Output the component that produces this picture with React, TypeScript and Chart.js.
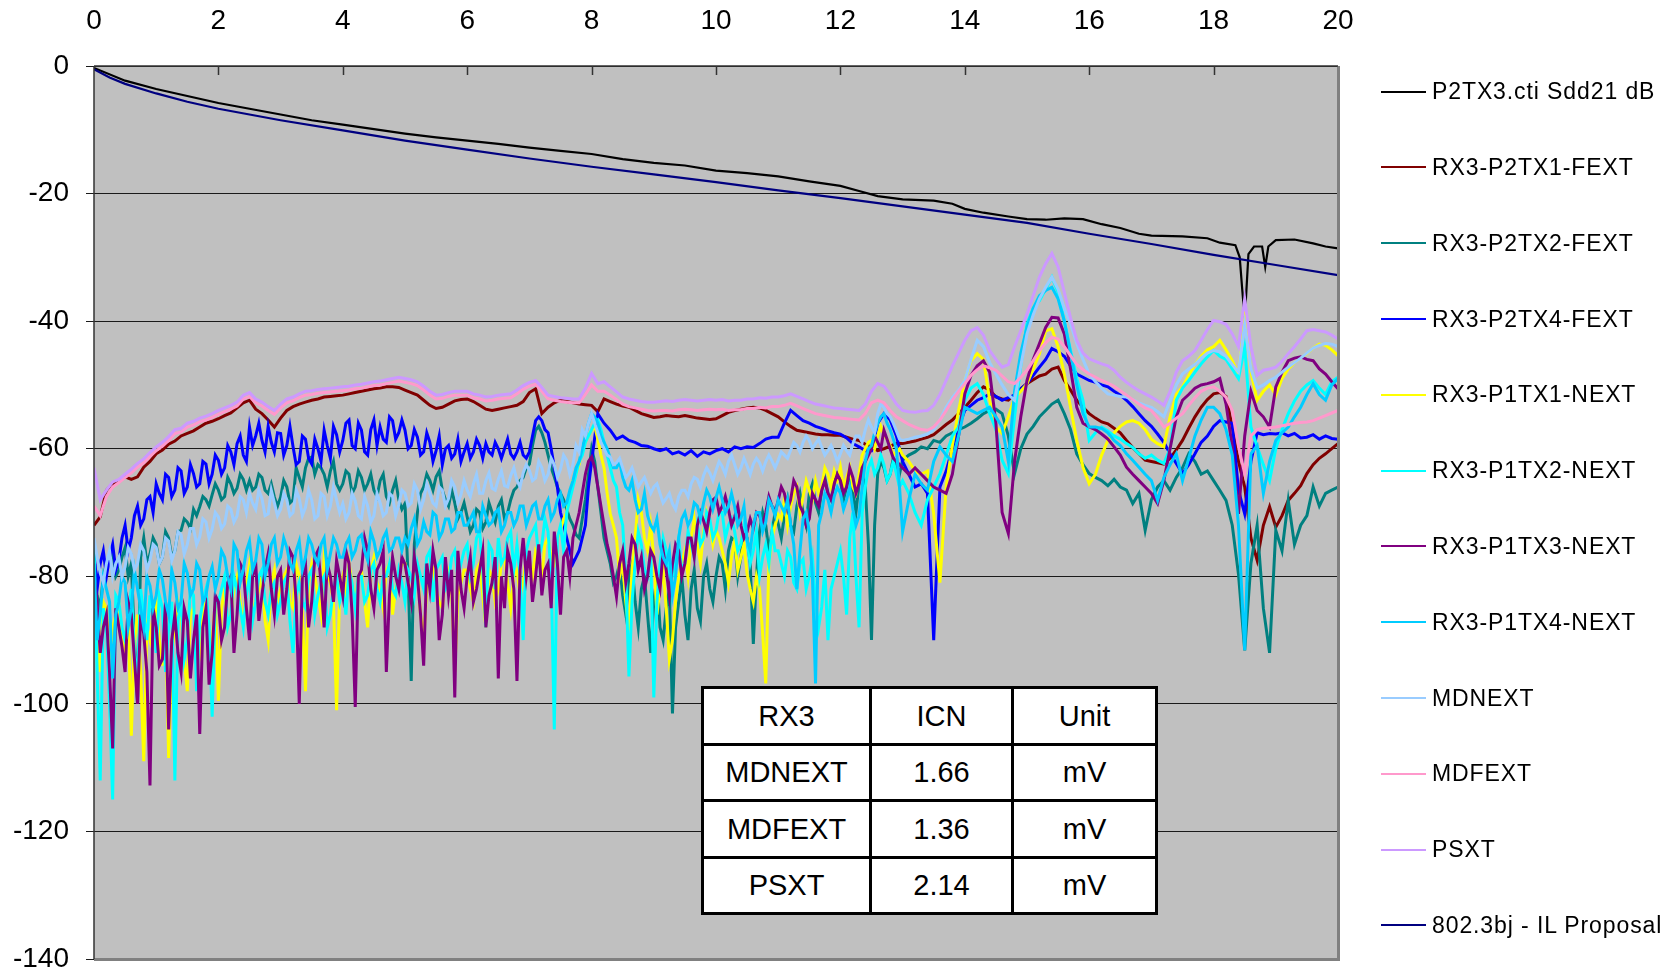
import React, { useEffect, useRef } from "react";
import { Chart, registerables } from "chart.js";

Chart.register(...registerables);

// ---------- axes ----------
const X_MIN = 0;
const X_MAX = 20;
const X_STEP = 2;
const Y_MIN = -140;
const Y_MAX = 0;
const Y_STEP = 20;

// frequency grids (GHz)
const FREQ: number[] = Array.from({ length: 201 }, (_, i) => i / 10); // 0.0 .. 20.0
const MID_F: number[] = Array.from({ length: 130 }, (_, k) => 0.05 + k / 10); // 0.05 .. 12.95 (extra samples of the noisy traces)

// ---------- P2TX3.cti Sdd21 dB ----------
const SDD21_F = [0, 0.5, 1, 1.5, 2, 2.5, 3, 3.5, 4, 4.5, 5, 5.5, 6, 6.5, 7, 7.5, 8, 8.5, 9, 9.5, 10, 10.5, 11, 11.5, 12, 12.3, 12.6, 13, 13.5, 13.8, 14, 14.3, 14.7, 15, 15.3, 15.6, 15.9, 16.2, 16.5, 16.8, 17.0, 17.5, 17.9, 18.1, 18.35, 18.42, 18.46, 18.49, 18.52, 18.56, 18.65, 18.78, 18.83, 18.88, 19.0, 19.3, 19.6, 19.8, 20];
const SDD21_DB = [-0.3, -2.3, -3.6, -4.7, -5.8, -6.7, -7.6, -8.5, -9.2, -9.9, -10.6, -11.2, -11.7, -12.2, -12.8, -13.3, -13.8, -14.6, -15.2, -15.6, -16.4, -16.8, -17.3, -18.1, -18.8, -19.6, -20.4, -20.9, -21.1, -21.6, -22.4, -23.0, -23.6, -24.0, -24.1, -23.9, -24.0, -24.8, -25.4, -26.3, -26.6, -26.7, -27.0, -27.7, -28.1, -30.0, -35.0, -38.5, -36.5, -29.5, -28.3, -28.3, -31.5, -28.3, -27.3, -27.2, -27.8, -28.3, -28.6];

// ---------- 802.3bj - IL Proposal ----------
const IL_F = [0, 0.25, 0.5, 1, 1.5, 2, 3, 4, 5, 6, 7, 8, 9, 10, 11, 12, 13, 14, 15, 16, 17, 18, 19, 20];
const IL_DB = [-0.5, -1.8, -2.8, -4.3, -5.6, -6.7, -8.5, -10.1, -11.7, -13.1, -14.5, -15.8, -17.0, -18.2, -19.5, -20.7, -22.0, -23.3, -24.6, -26.3, -27.9, -29.6, -31.2, -32.8];

// ---------- RX3-P2TX1-FEXT ----------
const FEXT1 = [
  -72.0, -70.7, -66.5, -65.5, -65.0, -64.4, -64.8, -64.4, -62.9, -62.0,
  -60.8, -60.2, -59.3, -58.8, -58.0, -57.6, -57.2, -56.6, -56.0, -55.7,
  -55.3, -54.8, -54.4, -53.6, -52.8, -52.4, -53.8, -54.5, -55.5, -56.6,
  -55.2, -54.0, -53.4, -53.0, -52.7, -52.4, -52.2, -51.9, -51.8, -51.7,
  -51.6, -51.4, -51.2, -51.0, -50.8, -50.6, -50.5, -50.3, -50.3, -50.4,
  -50.8, -51.2, -51.6, -52.4, -53.2, -53.7, -53.5, -53.0, -52.5, -52.3,
  -52.2, -52.6, -53.2, -53.8, -54.0, -53.8, -53.6, -53.4, -53.2, -52.6,
  -51.2, -50.6, -54.5, -53.5, -52.8, -52.4, -52.6, -52.8, -53.0, -53.1,
  -53.2, -54.2, -52.2, -52.6, -53.0, -53.3, -53.5, -54.0, -54.5, -54.8,
  -55.1, -55.0, -54.8, -54.9, -55.0, -54.8, -55.0, -55.2, -55.3, -55.4,
  -55.3, -54.8, -54.3, -54.0, -53.8, -53.6, -53.5, -53.6, -54.0, -54.5,
  -55.0, -55.8, -56.5, -57.1, -57.3, -57.5, -57.7, -57.8, -57.8, -57.9,
  -57.9, -58.2, -58.5, -58.7, -59.3, -59.8, -60.3, -60.0, -59.6, -59.2,
  -59.2, -59.0, -58.8, -58.5, -58.2, -57.8, -57.0, -56.2, -55.5, -54.5,
  -53.5, -52.4, -51.2, -50.3, -50.8, -51.9, -52.2, -52.4, -51.5, -50.6,
  -49.8, -49.2, -48.6, -48.3, -47.5, -47.2, -49.3, -50.8, -52.4, -53.5,
  -54.5, -55.2, -55.8, -56.1, -56.8, -57.5, -58.7, -59.8, -60.8, -61.8,
  -62.0, -62.2, -62.4, -61.5, -60.2, -58.7, -56.8, -55.0, -53.5, -52.3,
  -51.4, -51.2, -51.8, -56.6, -62.0, -66.0, -74.0, -77.5, -72.0, -69.1,
  -72.3, -70.5, -68.1, -67.0, -65.8, -63.9, -62.5, -61.5, -60.8, -60.0,
  -59.2,
];

// ---------- RX3-P2TX2-FEXT ----------
const FEXT2 = [
  -80.0, -85.0, -78.0, -76.0, -79.0, -75.5, -78.0, -100.0, -74.0, -76.5,
  -75.0, -77.0, -74.0, -76.0, -72.8, -71.5, -69.5, -69.1, -68.0, -67.2,
  -66.5, -67.5, -65.5, -66.2, -64.8, -65.0, -66.0, -64.5, -67.0, -67.6,
  -67.6, -66.0, -68.0, -64.5, -63.0, -61.3, -62.5, -64.0, -63.5, -65.5,
  -65.5, -64.0, -66.0, -64.5, -65.5, -66.5, -65.0, -67.5, -66.5, -68.0,
  -68.6, -96.4, -70.0, -66.0, -65.0, -64.4, -66.5, -69.0, -68.5, -70.0,
  -70.7, -72.0, -70.0, -71.5, -70.0, -69.0, -71.0, -68.0, -66.0, -64.5,
  -62.4, -57.1, -57.5, -61.0, -64.4, -67.0, -69.5, -72.0, -74.0, -68.0,
  -60.0, -66.0, -74.0, -78.0, -80.0, -83.0, -80.0, -84.0, -82.0, -86.0,
  -84.0, -88.0, -85.0, -101.5, -84.0, -86.0, -82.0, -85.0, -80.0, -82.0,
  -80.0, -78.0, -76.0, -74.4, -77.0, -74.0, -90.6, -73.0, -72.0, -73.0,
  -71.8, -70.5, -72.0, -69.0, -70.0, -67.0, -68.5, -66.5, -67.0, -65.5,
  -65.0, -66.0, -67.0, -65.5, -66.0, -90.0, -63.9, -63.0, -64.0, -62.5,
  -61.8, -61.0, -60.5, -59.7, -60.0, -58.7, -59.0, -58.0, -57.5, -57.0,
  -56.6, -56.0, -55.3, -54.5, -54.0, -53.8, -54.5, -58.0, -63.9, -60.0,
  -57.7, -56.5, -55.0, -54.0, -53.0, -52.4, -54.5, -57.0, -60.8, -62.5,
  -63.9, -64.5, -65.0, -65.8, -64.8, -66.0, -66.5, -68.6, -67.0, -72.8,
  -68.0, -66.0, -65.0, -66.5, -64.5, -63.0, -60.8, -62.0, -64.0, -63.5,
  -65.0, -66.5, -68.1, -72.0, -79.7, -91.6, -78.0, -72.0, -85.0, -92.0,
  -72.8, -76.0, -68.1, -75.0, -72.0, -70.5, -66.0, -69.0, -67.0, -66.5,
  -66.0,
];
const FEXT2_MID = [
  -83, -80, -77, -80, -77, -80, -90, -77, -78, -74,
  -78, -73, -77, -73, -71, -72.5, -70.5, -67.5, -69, -65.5,
  -68, -64.5, -67, -64, -66.5, -66.5, -64, -66.5, -65.5, -69,
  -65, -68.5, -63, -66, -61.5, -64, -63, -66, -62, -66.5,
  -63.5, -67, -63.5, -66.5, -64, -67.5, -64, -68.5, -65, -69.5,
  -80, -75, -67, -64, -66.5, -63.5, -68, -66.5, -71, -68.5,
  -73, -69.5, -72.5, -68.5, -71.5, -68, -70, -66.5, -65, -63,
  -59.5, -56.5, -59, -63, -66, -68, -71, -73.5, -71, -64,
  -62, -70, -76, -81, -78, -86, -78, -88, -80, -92,
  -80, -90, -82, -88, -80, -90, -79, -87, -78, -84,
  -77, -82, -74, -80, -73, -78, -80, -70, -76, -70,
  -74, -68, -73, -67, -72, -65.5, -70, -64.5, -68, -64,
  -68, -64, -70, -64, -75, -72, -62, -65, -61.5, -64,
];

// ---------- RX3-P2TX4-FEXT ----------
const FEXT4 = [
  -76.0, -78.0, -80.0, -75.0, -77.5, -72.0, -74.0, -69.0, -71.0, -67.5,
  -65.5, -68.0, -64.5, -66.5, -63.5, -66.0, -63.9, -65.5, -62.4, -64.0,
  -61.8, -63.0, -60.5, -59.2, -61.0, -56.6, -58.0, -58.7, -56.5, -60.5,
  -57.6, -59.5, -59.7, -62.0, -58.5, -62.4, -60.0, -57.1, -61.5, -57.8,
  -58.7, -55.5, -60.0, -57.1, -61.0, -55.5, -56.6, -59.0, -55.6, -57.5,
  -57.1, -59.5, -58.2, -60.5, -59.0, -60.3, -62.5, -59.5, -60.8, -62.0,
  -59.2, -60.5, -59.5, -59.2, -61.0, -60.0, -60.0, -60.8, -60.5, -61.0,
  -60.5, -55.6, -55.6, -57.5, -62.9, -70.0, -74.0, -78.0, -76.0, -72.0,
  -62.0, -54.5, -56.0, -57.1, -58.5, -58.0, -58.7, -59.0, -59.5, -59.6,
  -60.0, -60.3, -60.0, -60.8, -60.5, -61.0, -60.3, -61.2, -60.5, -60.8,
  -60.3, -60.0, -60.5, -59.7, -60.0, -59.7, -59.8, -59.2, -58.5, -58.2,
  -58.2, -56.0, -54.0, -54.8, -55.6, -56.0, -56.5, -56.8, -57.2, -57.5,
  -57.7, -58.3, -59.2, -59.7, -60.3, -60.3, -56.0, -54.5, -55.5, -58.0,
  -62.0, -64.0, -66.0, -65.5, -67.0, -90.0, -66.0, -63.5, -60.0, -56.6,
  -54.0, -53.2, -52.4, -52.0, -51.4, -51.8, -52.4, -52.0, -51.6, -50.6,
  -49.8, -48.5, -47.2, -46.0, -44.3, -44.8, -45.5, -47.0, -48.3, -48.8,
  -49.3, -49.6, -50.0, -50.3, -51.0, -51.6, -52.4, -53.4, -54.5, -55.6,
  -56.5, -57.7, -59.0, -60.8, -62.3, -63.9, -62.5, -60.8, -59.0, -58.0,
  -56.5, -55.6, -55.8, -56.0, -66.5, -70.2, -62.0, -57.5, -57.8, -57.6,
  -57.7, -57.5, -58.0, -57.6, -58.3, -58.2, -57.8, -58.5, -58.0, -58.4,
  -58.5,
];
const FEXT4_MID = [
  -82, -76, -77, -79, -74, -76, -70.5, -72, -68, -70,
  -67, -64, -67.5, -63, -67, -62.5, -66, -62, -65.5, -61,
  -64, -59.5, -62.5, -58, -62, -59.5, -56, -60.5, -59, -57.5,
  -61, -56.5, -62.5, -58, -61.5, -58.5, -62, -59.5, -56.5, -60.5,
  -56, -59.5, -56, -60.5, -57, -59.5, -58.5, -55, -58.5, -55.5,
  -60, -57, -61, -57.5, -62, -58, -60, -61.5, -58.5, -60.5,
  -61.5, -58.5, -61.5, -60.5, -59, -61.5, -58.5, -61.5, -59, -61.5,
  -58, -55, -57, -60, -66, -72, -76, -77, -74, -66,
];

// ---------- RX3-P1TX1-NEXT ----------
const NEXT1 = [
  -82.0, -95.0, -85.0, -88.0, -84.0, -92.0, -105.0, -86.0, -109.0, -90.0,
  -84.0, -94.0, -108.5, -88.0, -86.0, -98.0, -85.0, -92.0, -84.0, -90.0,
  -99.5, -82.0, -86.0, -80.0, -88.0, -78.0, -84.0, -80.0, -90.0, -79.0,
  -82.0, -79.0, -85.0, -80.0, -98.0, -78.0, -83.0, -77.0, -81.0, -101.0,
  -80.0, -78.0, -84.0, -79.0, -88.0, -77.0, -82.0, -79.0, -86.0, -80.0,
  -78.0, -83.0, -79.0, -90.0, -80.0, -82.0, -85.0, -79.0, -95.0, -81.0,
  -79.0, -84.0, -78.0, -88.0, -80.0, -82.0, -77.0, -85.0, -79.0, -81.0,
  -78.0, -76.0, -80.0, -74.0, -78.0, -72.8, -70.0, -65.0, -62.4, -59.0,
  -57.1, -58.5, -63.0, -70.2, -74.0, -78.0, -88.5, -74.0, -70.0, -76.0,
  -77.0, -82.0, -85.0, -90.0, -80.0, -76.0, -74.0, -75.0, -73.0, -72.0,
  -72.8, -76.0, -81.0, -74.4, -77.0, -79.6, -84.0, -82.0, -96.8, -74.0,
  -70.3, -68.0, -69.0, -66.0, -67.5, -66.5, -65.0, -66.0, -64.0, -63.5,
  -62.9, -64.5, -66.0, -64.0, -60.0, -58.7, -58.0, -57.8, -59.5, -60.5,
  -61.0, -62.0, -63.5, -64.0, -63.5, -70.2, -81.0, -66.0, -59.5, -54.0,
  -49.3, -46.2, -45.1, -46.0, -52.4, -56.6, -57.6, -55.0, -52.0, -51.0,
  -49.8, -47.5, -45.1, -41.5, -41.2, -44.0, -48.3, -53.5, -58.7, -62.9,
  -65.5, -64.0, -61.0, -58.7, -57.5, -56.5, -55.8, -55.6, -56.0, -57.0,
  -58.5, -59.2, -59.7, -55.0, -51.5, -50.3, -48.5, -46.8, -45.5, -44.5,
  -44.0, -43.0, -44.5, -46.2, -48.3, -39.4, -48.0, -52.4, -51.0, -50.0,
  -51.6, -49.0, -47.5, -46.5, -45.8, -45.1, -44.2, -43.6, -43.8, -44.5,
  -45.4,
];
const NEXT1_MID = [
  -88, -84, -93, -86, -90, -87, -90, -95, -88, -86,
  -90, -86, -92, -84, -93, -86, -90, -86, -95, -84,
  -85, -88, -82, -84, -81, -86, -82, -87, -81, -84,
  -80, -84, -78, -86, -81, -80, -86, -80, -84, -82,
  -83, -81, -80, -84, -79, -81, -85, -78, -82, -78,
  -81, -80, -86, -82, -79, -84, -80, -82, -83, -79,
  -82, -79, -83, -79, -84, -78, -81, -80, -83, -77,
  -80, -77, -75, -77, -74, -71, -67, -64, -60, -58,
  -56.5, -61, -67, -72, -80, -84, -79, -68, -74, -72,
  -86, -79, -93, -84, -78, -80, -71, -78, -70, -75,
  -74, -78, -77, -79, -75, -82, -80, -89, -78, -72,
  -71, -72, -67, -70, -65, -68, -67, -63, -66, -65,
  -66, -63, -67, -61, -59, -60, -56.5, -58.5, -61, -60,
];

// ---------- RX3-P1TX2-NEXT ----------
const NEXT2 = [
  -75.0, -112.0, -88.0, -115.0, -84.0, -90.0, -82.0, -96.0, -86.0, -83.0,
  -92.0, -85.0, -88.0, -112.0, -84.0, -90.0, -83.0, -87.0, -82.0, -102.0,
  -84.0, -80.0, -86.0, -82.0, -88.0, -80.0, -84.0, -79.0, -86.0, -81.0,
  -84.0, -80.0, -92.0, -81.0, -85.0, -79.0, -83.0, -80.0, -86.0, -80.0,
  -82.0, -79.0, -85.0, -80.0, -83.0, -78.0, -84.0, -80.0, -82.0, -79.0,
  -84.0, -80.0, -78.0, -82.0, -76.0, -79.0, -77.0, -81.0, -76.0, -78.0,
  -75.0, -78.0, -73.0, -88.0, -76.0, -74.0, -77.0, -73.0, -75.0, -90.0,
  -74.0, -72.0, -75.0, -73.0, -104.0, -72.0, -70.0, -66.0, -62.0, -59.0,
  -57.0, -55.5, -59.0, -63.0, -66.0, -72.0, -95.7, -78.0, -75.0, -80.0,
  -99.0, -78.0, -76.0, -80.0, -74.0, -78.0, -75.0, -72.0, -74.0, -71.0,
  -72.8, -70.0, -72.0, -73.0, -75.0, -74.4, -76.0, -80.0, -75.0, -73.0,
  -76.0, -80.0, -77.0, -82.0, -77.3, -80.0, -84.0, -84.8, -90.0, -80.0,
  -76.0, -86.0, -70.0, -88.0, -66.0, -61.8, -63.0, -62.5, -64.0, -63.9,
  -65.0, -67.0, -70.0, -72.0, -68.0, -66.0, -63.9, -61.0, -58.0, -56.6,
  -52.4, -50.5, -49.8, -51.5, -54.5, -57.0, -61.8, -63.9, -55.0, -47.0,
  -40.4, -38.0, -36.8, -35.0, -33.1, -35.5, -40.0, -44.6, -49.0, -52.4,
  -58.7, -57.5, -56.6, -57.2, -58.0, -58.5, -59.2, -59.8, -60.8, -61.5,
  -61.0, -61.8, -62.3, -60.0, -52.4, -50.5, -49.3, -48.0, -46.7, -45.6,
  -44.6, -45.5, -46.0, -47.5, -49.0, -44.0, -56.6, -59.7, -62.5, -65.0,
  -60.0, -57.0, -54.5, -52.5, -51.0, -50.0, -49.3, -50.5, -51.5, -49.5,
  -48.8,
];
const NEXT2_MID = [
  -95, -85, -100, -83, -88, -86, -92, -82, -90, -87,
  -83, -95, -84, -87, -93, -82, -98, -84, -88, -84,
  -82, -88, -80, -85, -83, -87, -80, -84, -82, -86,
  -81, -87, -83, -84, -80, -86, -81, -88, -82, -84,
  -86, -81, -80, -84, -79, -82, -80, -78, -83, -81,
  -79, -83, -80, -77, -84, -78, -82, -77, -80, -76,
  -80, -74, -79, -75, -82, -78, -74, -79, -80, -76,
  -73, -77, -71, -80, -74, -76, -68, -64, -61, -58,
  -56, -57, -61, -65, -70, -80, -84, -73, -79, -76,
  -84, -74, -81, -77, -79, -73, -77, -75, -70, -74,
  -70, -74, -71, -76, -72, -78, -73, -77, -78, -76,
  -78, -76, -81, -78, -82, -77, -88, -79, -82, -78,
  -80, -74, -80, -70, -63, -64, -61, -65, -62, -66,
];

// ---------- RX3-P1TX3-NEXT ----------
const NEXT3 = [
  -80.0, -92.0, -86.0, -107.0, -88.0, -95.0, -86.0, -100.0, -89.0, -112.8,
  -88.0, -93.0, -104.0, -86.0, -95.0, -87.0, -90.0, -104.7, -85.0, -92.0,
  -84.0, -88.0, -80.0, -86.0, -79.0, -90.0, -78.0, -83.0, -76.5, -86.0,
  -79.0, -82.0, -77.0, -100.0, -78.0, -84.0, -76.0, -88.0, -80.0, -77.5,
  -83.0, -78.0, -100.5, -79.0, -76.0, -85.0, -78.0, -95.0, -77.0, -82.0,
  -78.1, -84.0, -80.0, -94.0, -82.0, -79.0, -86.0, -83.0, -99.0, -82.0,
  -80.0, -84.0, -79.0, -88.0, -81.0, -96.0, -85.0, -78.0, -96.4, -74.0,
  -76.0, -80.0, -83.0, -78.0, -73.0, -86.0, -76.0, -74.0, -70.0, -64.0,
  -61.3, -66.0, -72.0, -77.0, -83.2, -76.0, -78.0, -75.0, -77.0, -80.0,
  -77.0, -82.0, -79.0, -78.1, -76.0, -78.0, -74.0, -72.0, -71.3, -70.0,
  -67.6, -69.0, -69.5, -70.7, -72.0, -73.0, -72.5, -70.5, -70.0, -69.0,
  -68.1, -67.0, -68.0, -66.0, -70.0, -71.0, -68.0, -66.5, -67.0, -65.5,
  -65.0, -66.0, -64.5, -65.5, -62.0, -60.0, -59.0, -57.1, -60.0, -62.0,
  -63.0, -64.0, -63.0, -64.0, -65.0, -66.0, -66.5, -67.0, -64.0, -58.0,
  -51.4, -48.5, -47.0, -46.2, -48.0, -56.0, -70.0, -73.3, -62.0, -55.0,
  -49.3, -46.0, -43.5, -41.0, -39.4, -39.5, -42.0, -47.5, -53.5, -56.0,
  -56.6, -57.0, -57.7, -58.5, -59.7, -61.0, -62.9, -64.0, -65.0, -66.0,
  -67.0, -68.6, -65.0, -60.0, -55.0, -52.4, -51.5, -50.5, -50.0, -49.8,
  -49.5, -49.0, -53.0, -59.7, -70.2, -58.0, -51.0, -54.0, -55.0, -56.6,
  -50.3, -48.0, -46.2, -45.8, -45.6, -46.0, -46.2, -47.5, -48.3, -49.5,
  -50.6,
];
const NEXT3_MID = [
  -84, -88, -95, -85, -91, -84, -93, -86, -95, -85,
  -94, -84, -90, -92, -85, -96, -86, -88, -97, -83,
  -90, -81, -92, -78, -85, -80, -87, -79, -82, -80,
  -86, -76, -84, -80, -88, -77, -81, -78, -84, -80,
  -76, -86, -80, -74, -82, -79, -76, -83, -80, -77,
  -81, -77, -86, -78, -76, -90, -77, -79, -76, -85,
  -77, -82, -76, -83, -77, -80, -76, -82, -79, -80,
  -84, -75, -79, -85, -78, -77, -80, -72, -67, -62,
  -63, -69, -75, -80, -78, -81, -74, -79, -82, -76,
  -80, -76, -83, -75, -80, -74, -77, -70, -73, -68,
  -70, -67.5, -72, -69, -74, -71, -70, -72, -67.5, -70,
  -66, -69.5, -65, -69, -72, -67, -69, -65, -68, -64,
  -67, -63, -67, -63, -61, -58, -60, -58.5, -61.5, -62.5,
];

// ---------- RX3-P1TX4-NEXT ----------
const NEXT4 = [
  -78.0, -86.0, -82.0, -96.0, -84.0, -81.0, -85.0, -82.0, -88.0, -81.5,
  -83.0, -80.5, -86.0, -81.0, -84.0, -79.5, -82.0, -79.0, -83.0, -78.5,
  -80.0, -77.0, -82.0, -76.0, -79.0, -74.5, -77.5, -75.0, -78.0, -74.0,
  -77.0, -75.5, -79.0, -74.5, -77.0, -75.0, -78.0, -74.0, -76.5, -75.0,
  -77.0, -74.0, -76.0, -73.5, -77.5, -74.5, -76.0, -73.0, -75.5, -74.0,
  -74.0, -72.5, -75.0, -71.5, -73.5, -70.5, -73.0, -71.0, -72.5, -70.0,
  -72.0, -70.0, -73.0, -70.5, -71.5, -69.5, -72.0, -70.0, -71.0, -69.0,
  -70.5, -68.5, -71.0, -68.0, -70.0, -67.0, -68.5, -65.0, -62.0, -58.0,
  -54.5, -56.0, -59.0, -61.5, -63.0, -64.5, -66.5, -68.0, -69.5, -70.5,
  -72.8, -75.0, -78.0, -83.0, -74.0, -70.0, -71.0, -69.0, -68.5, -67.5,
  -67.7, -68.0, -69.0, -69.1, -71.0, -74.4, -72.0, -70.0, -71.5, -69.0,
  -68.0, -70.0, -72.0, -82.0, -71.0, -73.0, -96.8, -70.0, -68.0, -67.5,
  -67.0, -68.0, -69.5, -70.5, -62.0, -59.5, -56.0, -54.5, -57.0, -60.0,
  -73.0, -68.0, -64.0, -65.5, -66.5, -62.0, -59.7, -61.0, -62.0, -58.0,
  -53.5, -54.0, -54.5, -54.0, -53.5, -55.0, -56.6, -62.0, -51.0, -45.0,
  -40.9, -38.0, -36.0, -35.2, -34.7, -36.5, -40.0, -45.0, -50.0, -54.5,
  -56.6, -56.6, -56.8, -57.5, -58.7, -59.5, -60.8, -61.8, -62.9, -64.0,
  -65.0, -68.1, -64.5, -62.5, -60.8, -65.0, -61.5, -58.0, -55.5, -53.5,
  -53.5, -54.5, -57.0, -61.0, -72.0, -91.6, -60.8, -59.5, -67.0, -62.0,
  -58.7, -57.5, -56.6, -55.0, -53.5, -51.5, -49.8, -51.5, -52.4, -50.0,
  -49.0,
];
const NEXT4_MID = [
  -90, -80, -84, -86, -80, -88, -79, -85, -80, -85,
  -79, -84, -79, -85, -78, -83, -78, -84, -80, -82,
  -76, -80, -75, -81, -76, -79, -74, -80, -75, -78,
  -74, -78, -76, -79, -74, -77, -75, -79, -74, -77,
  -75, -77, -74, -76, -73, -77, -74, -76, -74, -76,
  -75, -71, -74, -73, -70, -74, -71, -73, -70, -72,
  -71, -73, -69, -72, -70, -73, -70, -72, -69, -72,
  -69, -71, -69, -71, -68, -69, -66.5, -63, -60, -56,
  -55, -58, -60, -63, -62, -66, -65, -70, -67, -72,
  -71, -77, -76, -80, -71, -72, -68.5, -71, -66.5, -69.5,
  -66, -70, -67, -72, -69, -76, -70, -73, -68, -70.5,
  -69, -68, -75, -76, -70, -80, -72, -67, -70, -66,
  -69.5, -66, -72, -66, -60, -57.5, -55, -56, -58.5, -66,
];

// ---------- MDNEXT ----------
const MDNEXT = [
  -74.0, -79.5, -78.0, -80.0, -77.0, -78.5, -76.5, -78.0, -76.0, -77.5,
  -75.5, -77.0, -74.5, -76.0, -73.5, -75.0, -72.5, -73.8, -71.5, -72.6,
  -70.7, -71.8, -69.5, -70.5, -68.0, -67.0, -69.5, -67.8, -70.2, -68.5,
  -69.5, -68.0, -70.0, -67.8, -69.2, -68.0, -70.5, -67.5, -69.0, -68.0,
  -68.6, -70.0, -68.2, -71.0, -69.0, -70.5, -68.5, -70.0, -67.5, -68.8,
  -67.0, -68.5, -66.5, -68.0, -67.0, -69.0, -66.5, -67.8, -66.0, -67.2,
  -66.5, -65.5, -67.0, -65.0, -66.2, -64.8, -65.8, -64.2, -65.0, -63.8,
  -63.4, -64.6, -63.0, -64.0, -62.5, -63.2, -61.8, -62.5, -60.5, -58.0,
  -54.5, -57.5, -60.0, -61.3, -62.2, -63.0, -63.9, -64.5, -65.2, -65.8,
  -66.0, -67.0, -67.8, -68.6, -67.5, -66.5, -65.5, -64.8, -64.2, -63.8,
  -63.4, -62.8, -62.0, -62.5, -63.0, -62.7, -62.4, -62.2, -62.0, -61.9,
  -61.8, -61.0, -60.2, -59.5, -59.0, -58.7, -59.2, -59.8, -60.3, -60.6,
  -60.8, -60.3, -59.2, -58.0, -57.0, -56.6, -54.5, -53.5, -55.0, -57.2,
  -58.7, -58.5, -58.2, -58.0, -57.7, -57.0, -55.5, -53.5, -52.0, -50.8,
  -49.3, -46.0, -43.0, -44.0, -46.5, -48.3, -50.0, -51.5, -52.4, -47.0,
  -42.0, -39.0, -36.5, -34.7, -33.1, -35.0, -38.0, -40.4, -43.5, -46.0,
  -48.3, -49.5, -50.5, -51.4, -51.6, -51.8, -51.9, -52.3, -52.8, -53.2,
  -53.5, -54.2, -55.0, -52.5, -50.0, -48.3, -47.5, -46.8, -45.8, -45.0,
  -44.6, -44.8, -45.5, -46.8, -48.0, -40.5, -47.5, -50.5, -50.0, -49.3,
  -48.8, -48.0, -47.2, -46.5, -45.8, -45.0, -44.2, -43.8, -43.5, -43.6,
  -44.0,
];
const MDNEXT_MID = [
  -77, -81, -76, -78, -80, -75.5, -79, -75, -79, -75,
  -78, -74, -77.5, -73, -76.5, -72.5, -75, -71, -74, -70,
  -72.5, -69, -71.5, -67.5, -70, -68.5, -66.5, -70.5, -66.5, -70.5,
  -67, -70.5, -66.5, -70.5, -66.5, -71, -67, -70.5, -66, -70,
  -71, -67, -70.5, -67.5, -71.5, -67, -70.5, -67, -70.5, -66.5,
  -69, -65.5, -69.5, -65.5, -68.5, -66, -69, -65, -68.5, -65,
  -67.5, -64, -67, -63.8, -66.5, -63.5, -66, -63, -66, -62.5,
  -65, -62, -65, -61.5, -64.5, -61, -64, -59.5, -57, -56,
  -56, -59, -61, -62.5, -61.5, -64.5, -63, -66, -64.5, -67,
  -65.5, -68.5, -67, -69.5, -66.5, -67.5, -64.5, -66, -63, -65,
  -62, -64, -61, -64, -61.5, -64, -61.5, -63.5, -61, -63,
  -60.5, -61.5, -59, -60.5, -58, -60, -58.5, -61, -59.5, -62,
  -59.5, -61, -58, -59, -55.5, -57.5, -53, -54.5, -56, -58.5,
];

// ---------- MDFEXT ----------
const MDFEXT = [
  -69.0, -70.5, -67.5, -66.0, -65.3, -64.5, -63.8, -62.9, -62.2, -61.2,
  -60.3, -59.6, -58.7, -57.6, -57.4, -56.6, -56.3, -55.8, -55.5, -55.1,
  -54.6, -54.2, -53.8, -53.3, -52.2, -51.8, -52.8, -53.3, -54.0, -54.6,
  -53.6, -52.8, -52.5, -52.0, -51.6, -51.5, -51.3, -51.2, -51.1, -51.0,
  -50.9, -50.8, -50.6, -50.5, -50.3, -50.1, -50.0, -49.8, -49.6, -49.4,
  -49.6, -49.8, -50.1, -50.8, -51.6, -52.2, -52.1, -51.8, -51.6, -51.6,
  -51.6, -52.0, -52.2, -52.5, -52.4, -52.2, -52.1, -52.0, -51.4, -50.7,
  -50.2, -49.9, -51.0, -52.2, -52.4, -52.6, -52.7, -52.8, -52.8, -51.5,
  -50.0, -51.0, -51.0, -51.6, -52.3, -53.0, -53.4, -53.6, -53.8, -54.0,
  -54.1, -54.0, -54.0, -54.1, -53.9, -53.8, -53.9, -54.0, -53.9, -53.8,
  -53.9, -53.8, -54.0, -53.9, -53.9, -53.7, -53.7, -53.5, -53.6, -53.4,
  -53.4, -53.2, -52.9, -53.3, -53.7, -54.1, -54.5, -54.7, -54.9, -55.1,
  -55.2, -55.3, -55.4, -55.5, -54.5, -52.8, -52.4, -52.8, -54.0, -55.0,
  -55.6, -56.2, -56.6, -57.0, -57.1, -56.6, -55.5, -54.0, -52.4, -51.0,
  -49.8, -48.5, -47.6, -47.0, -47.3, -47.7, -48.6, -49.5, -49.8, -48.8,
  -47.7, -46.2, -44.6, -43.4, -42.5, -42.8, -44.0, -45.4, -46.8, -47.6,
  -48.3, -48.8, -49.3, -49.7, -50.2, -50.9, -51.6, -52.3, -53.0, -53.6,
  -54.0, -55.2, -56.6, -56.0, -55.2, -54.5, -53.2, -52.0, -51.0, -50.5,
  -50.3, -51.0, -51.9, -54.0, -59.7, -63.9, -58.0, -57.0, -56.8, -56.7,
  -56.6, -56.4, -56.2, -56.0, -55.9, -55.8, -55.6, -55.2, -54.8, -54.4,
  -54.0,
];

// ---------- PSXT ----------
const PSXT = [
  -63.0, -68.0, -66.5, -65.2, -64.8, -64.0, -63.2, -62.3, -61.6, -60.6,
  -59.7, -59.0, -58.1, -57.0, -56.8, -56.0, -55.7, -55.2, -54.9, -54.5,
  -54.0, -53.6, -53.2, -52.7, -51.6, -51.2, -52.2, -52.7, -53.4, -54.0,
  -53.0, -52.2, -51.9, -51.4, -51.0, -50.9, -50.7, -50.6, -50.5, -50.4,
  -50.3, -50.2, -50.0, -49.9, -49.7, -49.5, -49.4, -49.2, -49.0, -48.8,
  -49.0, -49.2, -49.5, -50.2, -51.0, -51.6, -51.5, -51.2, -51.0, -51.0,
  -51.0, -51.4, -51.6, -51.9, -51.8, -51.6, -51.5, -51.4, -50.8, -50.1,
  -49.6, -49.3, -50.4, -51.6, -51.8, -52.0, -52.1, -52.2, -52.2, -50.5,
  -48.2, -49.8, -49.5, -50.3, -51.1, -51.9, -52.2, -52.4, -52.6, -52.7,
  -52.7, -52.6, -52.5, -52.6, -52.4, -52.3, -52.4, -52.5, -52.4, -52.3,
  -52.4, -52.3, -52.5, -52.4, -52.4, -52.2, -52.2, -52.0, -52.1, -51.9,
  -51.9, -51.7, -51.4, -51.8, -52.2, -52.6, -53.0, -53.2, -53.4, -53.6,
  -53.7, -53.8, -53.9, -54.0, -53.0, -51.0, -49.8, -50.2, -51.5, -53.0,
  -54.0, -54.2, -54.3, -54.1, -54.0, -53.2, -51.5, -49.3, -47.0, -45.0,
  -43.0, -41.5, -41.0, -42.2, -44.6, -46.0, -47.2, -46.8, -44.0, -41.5,
  -38.9, -36.0, -33.1, -31.0, -29.4, -31.5, -35.5, -39.5, -43.0, -45.0,
  -45.9, -46.3, -46.7, -47.0, -47.7, -48.8, -49.6, -50.3, -50.9, -51.4,
  -51.9, -52.5, -53.2, -51.0, -48.0, -46.2, -45.5, -44.6, -43.0, -41.3,
  -39.9, -40.1, -40.5, -42.0, -44.0, -36.5, -44.0, -48.5, -47.7, -47.5,
  -47.2, -46.3, -45.1, -44.0, -42.8, -41.5, -41.3, -41.5, -41.7, -42.2,
  -42.8,
];

// ---------- series (legend order = draw order, last on top) ----------
const SERIES_LABELS = [
  "P2TX3.cti Sdd21 dB",
  "RX3-P2TX1-FEXT",
  "RX3-P2TX2-FEXT",
  "RX3-P2TX4-FEXT",
  "RX3-P1TX1-NEXT",
  "RX3-P1TX2-NEXT",
  "RX3-P1TX3-NEXT",
  "RX3-P1TX4-NEXT",
  "MDNEXT",
  "MDFEXT",
  "PSXT",
  "802.3bj - IL Proposal",
];
const SERIES_COLORS = [
  "#000000",
  "#800000",
  "#008080",
  "#0000FF",
  "#FFFF00",
  "#00FFFF",
  "#800080",
  "#00CCFF",
  "#99CCFF",
  "#FF99CC",
  "#CC99FF",
  "#000080",
];
const SERIES_X = [SDD21_F, FREQ, FREQ, FREQ, FREQ, FREQ, FREQ, FREQ, FREQ, FREQ, FREQ, IL_F];
const SERIES_Y = [SDD21_DB, FEXT1, FEXT2, FEXT4, NEXT1, NEXT2, NEXT3, NEXT4, MDNEXT, MDFEXT, PSXT, IL_DB];
const SERIES_MID: (number[] | null)[] = [null, null, FEXT2_MID, FEXT4_MID, NEXT1_MID, NEXT2_MID, NEXT3_MID, NEXT4_MID, MDNEXT_MID, null, null, null];

// ---------- ICN table ----------
const TABLE_HEAD = ["RX3", "ICN", "Unit"];
const TABLE_ROWS = [
  ["MDNEXT", "1.66", "mV"],
  ["MDFEXT", "1.36", "mV"],
  ["PSXT", "2.14", "mV"],
];

const FONT = '"Liberation Sans", Arial, sans-serif';

function buildPoints(i: number) {
  const xs = SERIES_X[i];
  const ys = SERIES_Y[i];
  const mid = SERIES_MID[i];
  const pts: { x: number; y: number }[] = [];
  for (let j = 0; j < xs.length; j++) {
    pts.push({ x: xs[j], y: ys[j] });
    if (mid && j < mid.length) pts.push({ x: MID_F[j], y: mid[j] });
  }
  return pts;
}

const plotDecor = {
  id: "plotDecor",
  beforeDraw(chart: any) {
    const { ctx, chartArea: a } = chart;
    ctx.save();
    ctx.fillStyle = "#C0C0C0";
    ctx.fillRect(a.left, a.top, a.right - a.left, a.bottom - a.top);
    ctx.restore();
  },
  afterDraw(chart: any) {
    const { ctx, chartArea: a, scales } = chart;
    ctx.save();
    ctx.fillStyle = "#808080";
    ctx.fillRect(a.right - 1, a.top, 3, a.bottom - a.top + 2);
    ctx.fillRect(a.left, a.bottom - 1, a.right - a.left + 2, 3);
    ctx.strokeStyle = "#333333";
    ctx.lineWidth = 1.5;
    ctx.beginPath();
    ctx.moveTo(a.left, a.top);
    ctx.lineTo(a.right, a.top);
    ctx.moveTo(a.left, a.top);
    ctx.lineTo(a.left, a.bottom);
    for (const t of scales.x.ticks) {
      if (t.value <= X_MIN || t.value >= X_MAX) continue;
      const px = Math.round(scales.x.getPixelForValue(t.value)) + 0.5;
      ctx.moveTo(px, a.top);
      ctx.lineTo(px, a.top + 9);
    }
    ctx.stroke();
    ctx.restore();
  },
};

function ChartCanvas() {
  const ref = useRef<HTMLCanvasElement | null>(null);
  useEffect(() => {
    if (!ref.current) return;
    const datasets = SERIES_LABELS.map((label, i) => ({
      label,
      data: buildPoints(i),
      borderColor: SERIES_COLORS[i],
      backgroundColor: SERIES_COLORS[i],
      borderWidth: i === 0 || i === 11 ? 2.2 : 3,
      pointRadius: 0,
      tension: 0,
      fill: false,
      order: 12 - i,
    }));
    const chart = new Chart(ref.current, {
      type: "line",
      data: { datasets },
      options: {
        animation: false,
        responsive: false,
        devicePixelRatio: 1,
        parsing: false as any,
        normalized: true,
        layout: { padding: { left: 0, top: 0, right: 333, bottom: 13 } },
        plugins: { legend: { display: false }, tooltip: { enabled: false } },
        scales: {
          x: {
            type: "linear",
            position: "top",
            min: X_MIN,
            max: X_MAX,
            grid: { display: false },
            border: { display: false },
            ticks: {
              stepSize: X_STEP,
              color: "#000",
              font: { family: FONT, size: 28 },
              padding: 20,
              maxRotation: 0,
            },
            afterFit: (s: any) => {
              s.height = 66;
              s.paddingLeft = 0;
              s.paddingRight = 0;
            },
          },
          y: {
            type: "linear",
            min: Y_MIN,
            max: Y_MAX,
            grid: { color: "#1a1a1a", lineWidth: 1, tickLength: 8 },
            border: { display: false },
            ticks: {
              stepSize: Y_STEP,
              color: "#000",
              font: { family: FONT, size: 28 },
              padding: 17,
            },
            afterFit: (s: any) => {
              s.width = 94;
              s.paddingTop = 0;
              s.paddingBottom = 0;
            },
          },
        },
      },
      plugins: [plotDecor],
    });
    return () => chart.destroy();
  }, []);
  return <canvas ref={ref} width={1671} height={972} style={{ position: "absolute", left: 0, top: 0 }} />;
}

export default function App() {
  const cellBorder = "3px solid #000";
  const colW = [168, 142, 144];
  const rowH = [57, 56, 57, 56];
  const allRows = [TABLE_HEAD, ...TABLE_ROWS];
  return (
    <div style={{ position: "absolute", left: 0, top: 0, width: 1671, height: 972, background: "#fff", overflow: "hidden" }}>
      <ChartCanvas />
      {SERIES_LABELS.map((label, i) => (
        <div
          key={label}
          style={{
            position: "absolute",
            left: 1381,
            top: 91.6 + 75.8 * i - 15,
            height: 30,
            display: "flex",
            alignItems: "center",
            whiteSpace: "nowrap",
          }}
        >
          <div style={{ width: 45, height: 2, background: SERIES_COLORS[i] }} />
          <span style={{ marginLeft: 6, fontFamily: FONT, fontSize: 23, letterSpacing: "0.9px", color: "#000" }}>{label}</span>
        </div>
      ))}
      <table
        style={{
          position: "absolute",
          left: 701,
          top: 686,
          borderCollapse: "collapse",
          background: "#fff",
          fontFamily: FONT,
          fontSize: 29,
          color: "#000",
          tableLayout: "fixed",
        }}
      >
        <colgroup>
          {colW.map((w, i) => (
            <col key={i} style={{ width: w }} />
          ))}
        </colgroup>
        <tbody>
          {allRows.map((row, r) => (
            <tr key={r} style={{ height: rowH[r] }}>
              {row.map((cell, c) => (
                <td key={c} style={{ border: cellBorder, textAlign: "center", padding: 0, verticalAlign: "middle" }}>
                  {cell}
                </td>
              ))}
            </tr>
          ))}
        </tbody>
      </table>
    </div>
  );
}
